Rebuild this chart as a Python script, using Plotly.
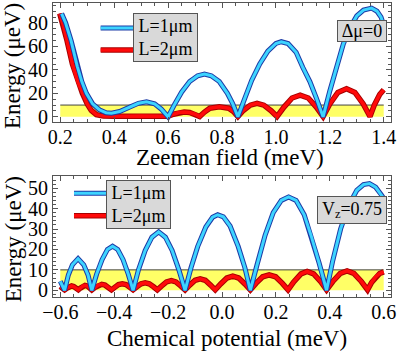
import plotly.graph_objects as go

# ---- data ----
# top panel: energy vs Zeeman field (meV), delta mu = 0
zee_x_L1 = [0.205, 0.22, 0.24, 0.263, 0.28, 0.297, 0.32, 0.345, 0.37, 0.39, 0.42, 0.46, 0.49, 0.52, 0.55, 0.575, 0.6,
            0.625, 0.65, 0.68, 0.71, 0.735, 0.76, 0.79, 0.82, 0.84, 0.859,
            0.88, 0.91, 0.94, 0.97, 1.0, 1.02, 1.045, 1.075, 1.1, 1.126, 1.15, 1.175,
            1.2, 1.225, 1.25, 1.275, 1.3, 1.325, 1.355, 1.375, 1.39, 1.4]
zee_E_L1 = [88, 80, 65, 43, 30, 20, 11, 6, 3.5, 3, 4.5, 8.5, 11.5, 12.8, 11, 6.5, 0,
            11, 21, 30, 35, 36.5, 35, 30, 20, 11, 0,
            13, 31, 45, 56, 62.5, 64, 62.5, 55, 42, 30, 16, 0,
            22, 42, 62, 76, 86, 91, 92.6, 90, 85, 78]

zee_x_L2 = [0.198, 0.21, 0.225, 0.245, 0.265, 0.282, 0.3, 0.315, 0.334, 0.36, 0.4, 0.45, 0.5, 0.55, 0.58, 0.6,
            0.62, 0.64, 0.66, 0.68, 0.7, 0.717,
            0.735, 0.755, 0.79, 0.825, 0.845, 0.859,
            0.878, 0.905, 0.93, 0.955, 0.982, 1.004,
            1.03, 1.06, 1.09, 1.12, 1.15, 1.175,
            1.2, 1.23, 1.262, 1.293, 1.324, 1.349,
            1.365, 1.385, 1.4]
zee_E_L2 = [88, 79, 65, 45, 30, 20, 11, 5.5, 1.8, 0.6, 0.4, 0.5, 0.7, 0.8, 0.8, 0.5,
            2.2, 3.6, 4, 3.6, 2.2, 0.2,
            4, 7.3, 8.5, 7.3, 4, 0.2,
            5.2, 9.9, 11.4, 9.9, 5.2, 0.2,
            8.3, 16, 18.5, 16, 8.3, 0.2,
            11, 20.8, 24, 20.8, 11, 0.2,
            10, 19, 23]

# bottom panel: energy vs chemical potential (meV), Vz = 0.75
mu_x_L1 = [-0.6, -0.584,
           -0.57, -0.555, -0.534, -0.513, -0.497, -0.483,
           -0.465, -0.445, -0.425, -0.406, -0.387, -0.367, -0.348, -0.33,
           -0.31, -0.285, -0.26, -0.235, -0.21, -0.185, -0.16, -0.137,
           -0.115, -0.09, -0.06, -0.035, -0.016, 0.005, 0.03, 0.06, 0.085, 0.105,
           0.13, 0.16, 0.19, 0.22, 0.247, 0.275, 0.305, 0.33, 0.36, 0.388,
           0.41, 0.44, 0.47, 0.5, 0.525, 0.547, 0.57, 0.59, 0.6]
mu_E_L1 = [4.4, 0,
           7.5, 12.5, 15.5, 12.5, 7.5, 0,
           8, 15, 20, 21.6, 20, 15, 8, 0,
           10, 19.5, 26, 28.6, 26, 19.5, 10, 0,
           11, 21.5, 31, 35.8, 37, 36, 31.5, 21.5, 11, 0,
           12.5, 27, 38, 44, 45.7, 44, 37, 27, 13.5, 0,
           14, 30, 41.5, 49, 51.8, 52.3, 50.5, 47, 45]

mu_x_L2 = [-0.6, -0.592, -0.584,
           -0.576, -0.567, -0.558, -0.55, -0.541, -0.533,
           -0.525, -0.516, -0.508, -0.5, -0.491, -0.483,
           -0.472, -0.459, -0.446, -0.434, -0.421, -0.41,
           -0.398, -0.384, -0.37, -0.356, -0.342, -0.33,
           -0.316, -0.3, -0.285, -0.27, -0.254, -0.24,
           -0.224, -0.206, -0.188, -0.171, -0.153, -0.137,
           -0.12, -0.1, -0.081, -0.062, -0.042, -0.025,
           -0.005, 0.018, 0.04, 0.062, 0.085, 0.105,
           0.126, 0.151, 0.175, 0.199, 0.224, 0.245,
           0.266, 0.293, 0.316, 0.34, 0.367, 0.388,
           0.411, 0.439, 0.464, 0.489, 0.517, 0.54,
           0.555, 0.57, 0.585, 0.6]
mu_E_L2 = [1.8, 1.2, 0.2,
           1.0, 1.8, 2.1, 1.8, 1.0, 0.2,
           1.1, 2.1, 2.4, 2.1, 1.1, 0.2,
           1.3, 2.5, 2.9, 2.5, 1.3, 0.2,
           1.4, 2.8, 3.2, 2.8, 1.4, 0.2,
           1.7, 3.2, 3.7, 3.2, 1.7, 0.2,
           2.1, 4.1, 4.7, 4.1, 2.1, 0.2,
           2.5, 4.9, 5.6, 4.9, 2.5, 0.2,
           3.1, 6.0, 6.9, 6.0, 3.1, 0.2,
           3.4, 6.6, 7.6, 6.6, 3.4, 0.2,
           4.1, 8.0, 9.2, 8.0, 4.1, 0.2,
           4.3, 8.3, 9.5, 8.3, 4.3, 0.2,
           3.8, 6.5, 8.2, 9]

# shaded window (0 .. 10 ueV)
band_top = 10
zee_band = [0.2, 1.4]
mu_band = [-0.6, 0.6]

# ---- styling ----
FONT = "Liberation Serif"
BLUE_EDGE, BLUE_CORE = "#1c3aa6", "#3dd4ff"
RED_EDGE, RED_CORE = "#a80000", "#ff0a0a"
YELLOW = "#ffff66"

fig = go.Figure()


def add_panel(xa, ya, band_x, xs1, ys1, xs2, ys2):
    fig.add_trace(go.Scatter(x=band_x, y=[band_top, band_top], mode="lines", fill="tozeroy",
                             fillcolor=YELLOW, line=dict(color="#444", width=1),
                             xaxis=xa, yaxis=ya, hoverinfo="skip"))
    fig.add_trace(go.Scatter(x=xs2, y=ys2, mode="lines", line=dict(color=RED_EDGE, width=5.5),
                             xaxis=xa, yaxis=ya))
    fig.add_trace(go.Scatter(x=xs2, y=ys2, mode="lines", line=dict(color=RED_CORE, width=3.5),
                             xaxis=xa, yaxis=ya))
    fig.add_trace(go.Scatter(x=xs1, y=ys1, mode="lines", line=dict(color=BLUE_EDGE, width=5),
                             xaxis=xa, yaxis=ya))
    fig.add_trace(go.Scatter(x=xs1, y=ys1, mode="lines", line=dict(color=BLUE_CORE, width=3),
                             xaxis=xa, yaxis=ya))


add_panel("x", "y", zee_band, zee_x_L1, zee_E_L1, zee_x_L2, zee_E_L2)
add_panel("x2", "y2", mu_band, mu_x_L1, mu_E_L1, mu_x_L2, mu_E_L2)

axis_common = dict(showline=True, linecolor="#555", linewidth=1, mirror="ticks", automargin=False,
                   ticks="inside", ticklen=5, tickcolor="#555", showgrid=False, zeroline=False,
                   tickfont=dict(family=FONT, size=20, color="black"))
xminor = dict(ticks="inside", ticklen=3, dtick=0.05, tickcolor="#555")

fig.update_layout(
    width=399, height=352, autosize=False,
    margin=dict(l=53, r=8, t=3, b=55),
    paper_bgcolor="white", plot_bgcolor="white",
    showlegend=False,
    font=dict(family=FONT, color="black"),
    xaxis=dict(domain=[0, 1], anchor="y", range=[0.173, 1.427], dtick=0.2, tickformat=".1f",
               ticklabelstandoff=-3, minor=xminor, **axis_common),
    yaxis=dict(domain=[0.595, 1], anchor="x", range=[-4.5, 97], dtick=20,
               minor=dict(ticks="inside", ticklen=3, dtick=5, tickcolor="#555"), **axis_common),
    xaxis2=dict(domain=[0, 1], anchor="y2", range=[-0.627, 0.627], dtick=0.2, tickformat=".1f",
                ticklabelstandoff=-3, minor=xminor, **axis_common),
    yaxis2=dict(domain=[0, 0.4116], anchor="x2", range=[-3.3, 56], dtick=10,
                minor=dict(ticks="inside", ticklen=3, dtick=2, tickcolor="#555"), **axis_common),
)

# axis titles
title = dict(showarrow=False, xref="paper", yref="paper", xanchor="center", yanchor="middle",
             font=dict(family=FONT, size=23, color="black"))
fig.add_annotation(text="Zeeman field (meV)", x=0.525, y=0.4728, **title)
fig.add_annotation(text="Chemical potential (meV)", x=0.515, y=-0.1405, **title)
fig.add_annotation(text="Energy (\u03bceV)", x=-0.118, y=0.786, textangle=-90, **title)
fig.add_annotation(text="Energy (\u03bceV)", x=-0.118, y=0.197, textangle=-90, **title)

# legends (line samples outside a grey box, as in the reference)
box = dict(showarrow=False, xref="paper", yref="paper", xanchor="center", yanchor="middle",
           bgcolor="#d9d9d9", bordercolor="#555", borderwidth=1, borderpad=0,
           font=dict(family=FONT, size=18, color="black"))


def legend(cx, cy, x0, x1, yb, yr):
    fig.add_annotation(text="L=1\u03bcm<br>L=2\u03bcm", x=cx, y=cy, width=63, height=47, **box)
    for y, edge, core, we, wc in [(yb, BLUE_EDGE, BLUE_CORE, 5, 3), (yr, RED_EDGE, RED_CORE, 5.5, 3.5)]:
        fig.add_shape(type="line", xref="paper", yref="paper", x0=x0, x1=x1, y0=y, y1=y,
                      line=dict(color=edge, width=we))
        fig.add_shape(type="line", xref="paper", yref="paper", x0=x0, x1=x1, y0=y, y1=y,
                      line=dict(color=core, width=wc))


legend(0.3328, 0.8837, 0.141, 0.237, 0.915, 0.840)
legend(0.2524, 0.314, 0.0621, 0.1568, 0.3527, 0.2765)

fig.add_annotation(text="\u0394\u03bc=0", x=0.9133, y=0.9054, width=48, height=20, **box)
fig.add_annotation(text="V<sub>z</sub>=0.75", x=0.8837, y=0.2976, width=68, height=26, **box)

# page body has a default 8px margin; drop it so the 399x352 figure fills the window
fig.write_html("out.html", config={"displayModeBar": False},
               post_script="document.body.style.margin='0';")
